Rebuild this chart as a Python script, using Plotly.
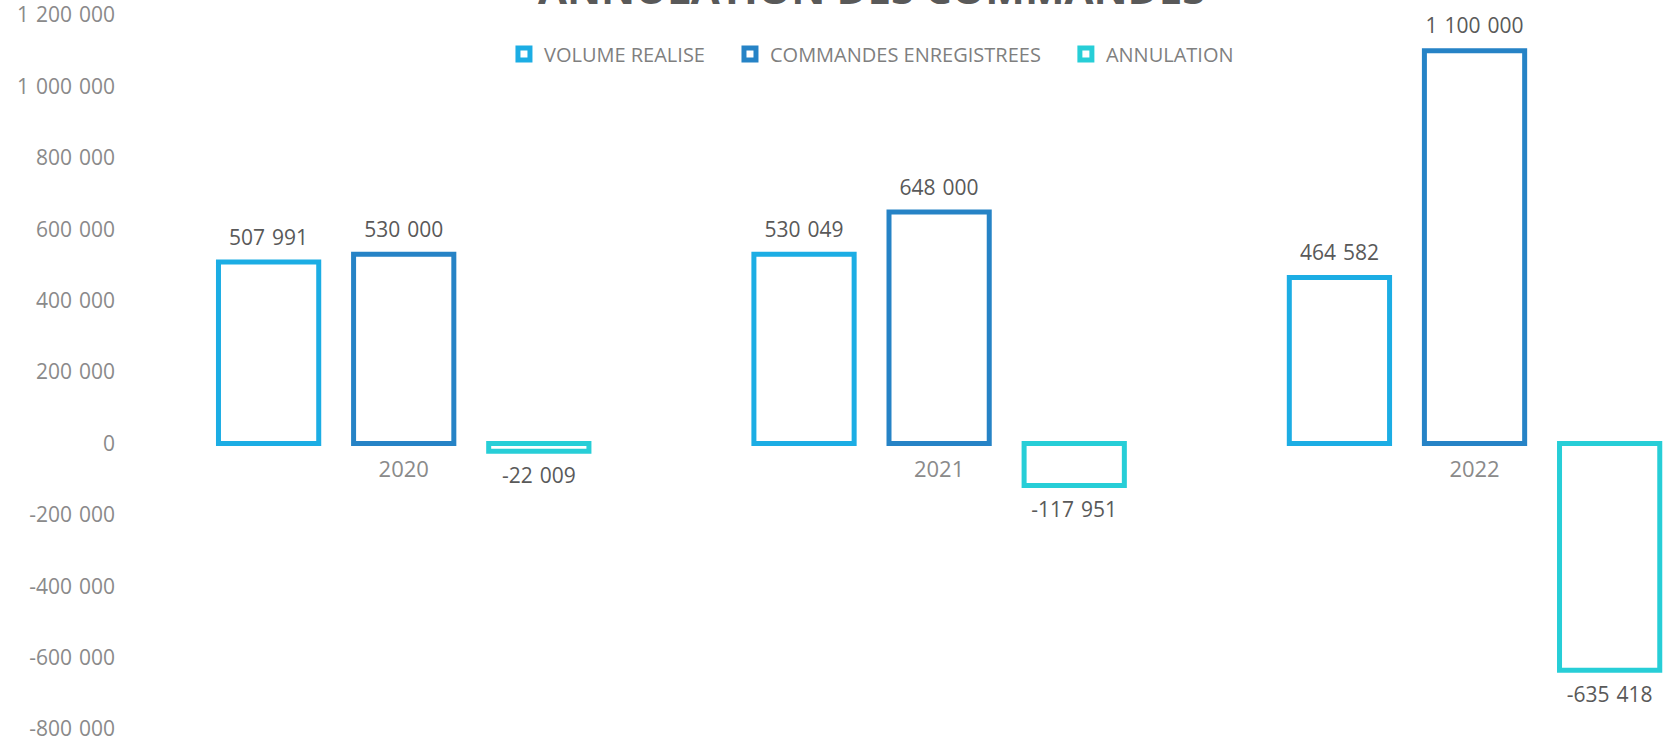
import plotly.graph_objects as go

# Order volumes per year
years = ["2020", "2021", "2022"]
volume_realise = [507991, 530049, 464582]
commandes_enregistrees = [530000, 648000, 1100000]
annulation = [-22009, -117951, -635418]

y_tick_values = [-800000, -600000, -400000, -200000, 0,
                 200000, 400000, 600000, 800000, 1000000, 1200000]

series = [
    ("VOLUME REALISE", volume_realise, "#1CADE4"),
    ("COMMANDES ENREGISTREES", commandes_enregistrees, "#2683C6"),
    ("ANNULATION", annulation, "#27CED7"),
]

FONT = "Open Sans"
SEP = "\u2004"  # three-per-em space used as thousands separator


def fmt(v):
    return f"{v:,}".replace(",", SEP)


fig = go.Figure()

for name, values, color in series:
    fig.add_trace(go.Bar(
        name=name + "\u2003",
        x=years,
        y=values,
        offsetgroup=name,
        marker=dict(color="white", line=dict(color=color, width=5)),
        hoverinfo="skip",
    ))

# value labels, grouped like the bars so they sit over / under each column
for name, values, color in series:
    fig.add_trace(go.Scatter(
        x=years,
        y=values,
        offsetgroup=name,
        mode="markers+text",
        text=[fmt(v) for v in values],
        textposition=["top center" if v >= 0 else "bottom center" for v in values],
        textfont=dict(family=FONT, size=21, color="#595959"),
        marker=dict(size=[18 if v >= 0 else 24 for v in values], opacity=0),
        showlegend=False,
        hoverinfo="skip",
        cliponaxis=False,
    ))

fig.add_annotation(
    text="ANNULATION DES COMMANDES",
    xref="paper", yref="paper",
    x=0.481, y=1.0385,
    xanchor="center", yanchor="middle",
    showarrow=False,
    font=dict(family=FONT, size=42, color="#595959", weight="bold"),
)

fig.update_layout(
    width=1666,
    height=737,
    margin=dict(l=136, r=0, t=15, b=8, autoexpand=False),
    paper_bgcolor="white",
    plot_bgcolor="white",
    barmode="group",
    scattermode="group",
    bargap=0.243,
    bargroupgap=0.258,
    showlegend=True,
    legend=dict(
        orientation="h",
        x=0.2405, xanchor="left",
        y=0.9454, yanchor="middle",
        font=dict(family=FONT, size=20, color="#7f7f7f"),
        bgcolor="rgba(0,0,0,0)",
        itemclick=False,
    ),
    xaxis=dict(
        type="category",
        range=[-0.5, 2.3576],
        anchor="free",
        position=0.4,
        showline=False,
        showgrid=False,
        zeroline=False,
        ticks="",
        ticklabelstandoff=11,
        tickfont=dict(family=FONT, size=22, color="#8a8a8a"),
    ),
    yaxis=dict(
        range=[-800000, 1200000],
        tickvals=y_tick_values,
        ticktext=[fmt(v) for v in y_tick_values],
        showgrid=False,
        zeroline=False,
        showline=False,
        ticks="",
        ticklabelstandoff=20,
        ticklabeloverflow="allow",
        tickfont=dict(family=FONT, size=21, color="#8a8a8a"),
    ),
)

fig.write_html("out.html")
